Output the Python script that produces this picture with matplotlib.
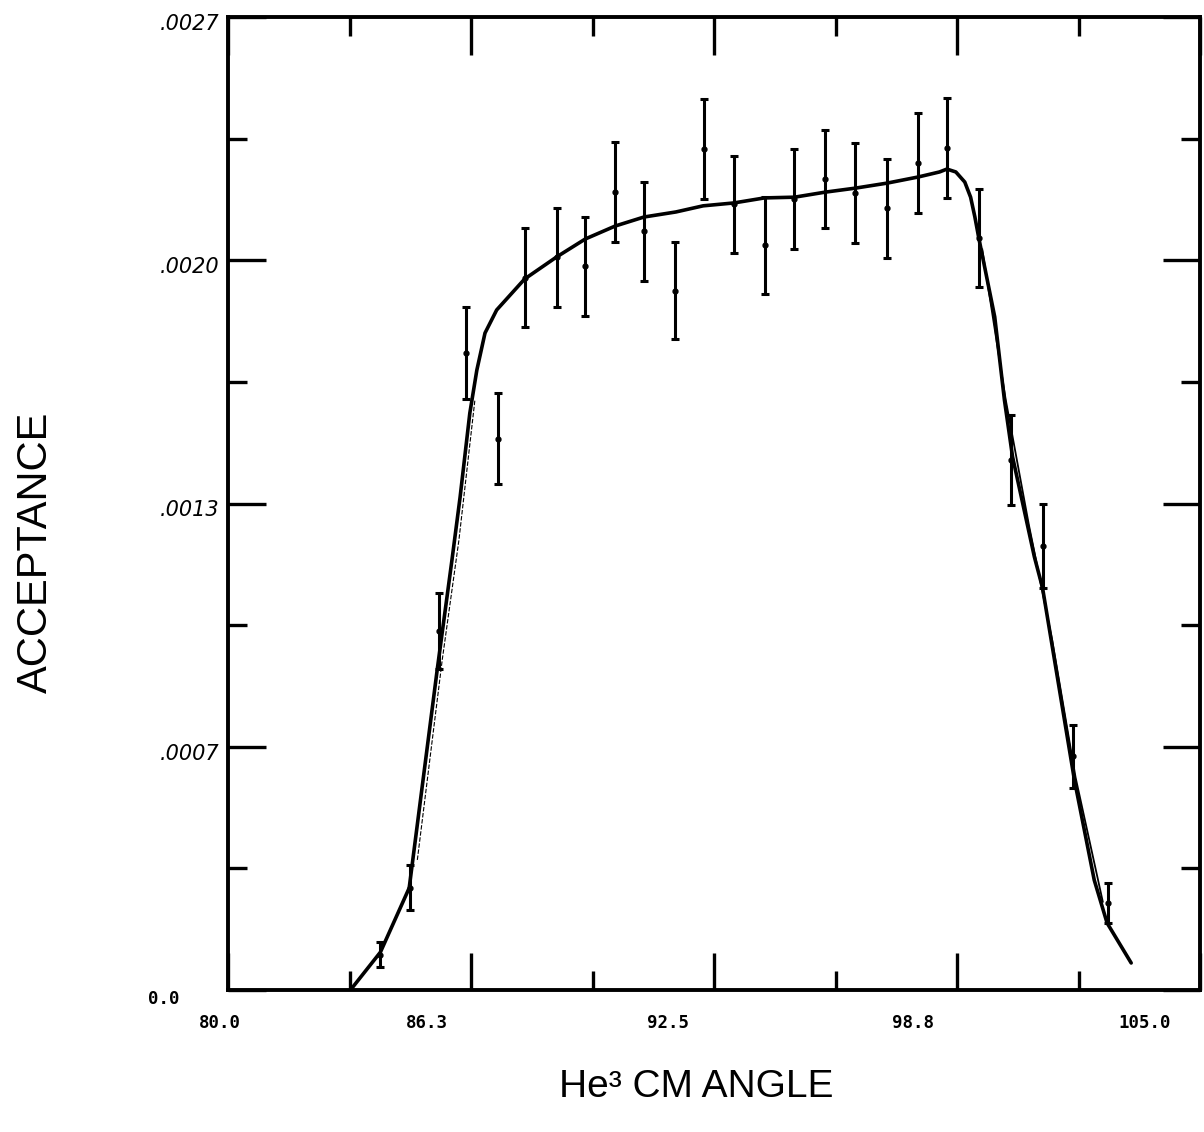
import numpy as np
import matplotlib
matplotlib.use("Agg")
import matplotlib.pyplot as plt
from matplotlib.transforms import ScaledTranslation

# ---------------- data ----------------
angle = [83.92, 84.69, 85.43, 86.12, 86.94, 87.63, 88.45, 89.19, 89.96, 90.70,
         91.50, 92.24, 93.01, 93.80, 94.57, 95.36, 96.13, 96.95, 97.75, 98.49,
         99.31, 100.15, 100.95, 101.74, 102.64]
acc_e4 = [0.985, 2.84, 9.96, 17.68, 15.30, 19.77, 20.33, 20.08, 22.14, 21.05,
          19.41, 23.34, 21.80, 20.66, 21.95, 22.50, 22.12, 21.69, 22.95, 23.37,
          20.87, 14.71, 12.32, 6.48, 2.41]
err_e4 = [0.35, 0.62, 1.05, 1.28, 1.26, 1.37, 1.37, 1.37, 1.39, 1.37,
          1.35, 1.39, 1.35, 1.35, 1.39, 1.36, 1.39, 1.37, 1.39, 1.39,
          1.36, 1.25, 1.17, 0.87, 0.55]

curve_x = [83.15, 83.92, 84.66, 85.38, 85.76, 85.97, 86.22, 86.40, 86.61, 86.91,
           87.63, 88.45, 89.19, 89.96, 90.70, 91.52, 92.22, 93.01, 93.80, 94.57,
           95.36, 96.13, 96.95, 97.75, 98.30, 98.49, 98.72, 98.95, 99.10, 99.21,
           99.31, 99.72, 99.97, 100.18, 100.74, 100.95, 101.77, 102.28, 102.61,
           103.23]
curve_y_e4 = [0.0, 1.05, 2.83, 8.88, 11.93, 13.68, 16.01, 17.20, 18.23, 18.87,
              19.73, 20.34, 20.84, 21.20, 21.45, 21.59, 21.76, 21.84, 21.98, 22.00,
              22.14, 22.25, 22.39, 22.56, 22.70, 22.78, 22.70, 22.42, 22.00, 21.45,
              20.87, 18.68, 16.37, 14.79, 12.02, 11.16, 5.83, 3.05, 1.86,
              0.75]

thin_rise_x = [84.87, 85.51, 85.94, 86.35]
thin_rise_y_e4 = [3.61, 9.16, 12.49, 16.37]
thin_fall_x = [99.40, 100.00, 100.60, 101.20, 101.80, 102.50]
thin_fall_y_e4 = [20.55, 16.40, 12.90, 9.70, 5.90, 2.45]

x_major = [80.0, 86.25, 92.5, 98.75, 105.0]
x_minor = [83.125, 89.375, 95.625, 101.875]
x_labels = ["80.0", "86.3", "92.5", "98.8", "105.0"]
y_major = [0.0, 0.000675, 0.00135, 0.002025, 0.0027]
y_minor = [0.0003375, 0.0010125, 0.0016875, 0.0023625]
y_labels = ["0.0", ".0007", ".0013", ".0020", ".0027"]

# ---------------- figure ----------------
W, H = 1204, 1132
fig = plt.figure(figsize=(W / 100, H / 100), dpi=100)
ax = fig.add_axes([228 / W, 1 - 990 / H, (1200 - 228) / W, (990 - 17) / H])

scale = 1e-4
acc = [v * scale for v in acc_e4]
err = [v * scale for v in err_e4]
cy = [v * scale for v in curve_y_e4]

ax.plot(curve_x, cy, color="black", lw=2.6, solid_capstyle="round",
        solid_joinstyle="round", zorder=3)
ax.plot(thin_rise_x, [v * scale for v in thin_rise_y_e4], color="black",
        lw=0.8, ls=(0, (4, 1.5)), zorder=2)
ax.plot(thin_fall_x, [v * scale for v in thin_fall_y_e4], color="black",
        lw=1.3, zorder=2)
ax.errorbar(angle, acc, yerr=err, fmt="o", ms=3.5, color="black",
            ecolor="black", elinewidth=2.2, capsize=3, capthick=2.2, zorder=4)

ax.set_xlim(80, 105)
ax.set_ylim(0, 0.0027)

for s in ax.spines.values():
    s.set_linewidth(2.8)

ax.set_xticks(x_major)
ax.set_xticks(x_minor, minor=True)
ax.set_yticks(y_major)
ax.set_yticks(y_minor, minor=True)
ax.set_xticklabels(x_labels)
ax.set_yticklabels(y_labels)
ax.tick_params(which="major", direction="in", length=27, width=2.4,
               top=True, right=True, labeltop=False, labelright=False)
ax.tick_params(which="minor", direction="in", length=14, width=2.4,
               top=True, right=True)
ax.tick_params(axis="x", which="major", pad=17)
ax.tick_params(axis="y", which="major", pad=6)

# x tick label styling and offsets (labels sit left of the ticks in the reference)
x_off_px = [-8, -44, -46, -44, -55]
for lab, dx in zip(ax.get_xticklabels(), x_off_px):
    lab.set_fontfamily("DejaVu Sans Mono")
    lab.set_fontweight("bold")
    lab.set_fontsize(12.5)
    lab.set_transform(lab.get_transform() + ScaledTranslation(dx / 100, 0, fig.dpi_scale_trans))

for i, lab in enumerate(ax.get_yticklabels()):
    if i == 0:
        lab.set_fontfamily("DejaVu Sans Mono")
        lab.set_fontweight("bold")
        lab.set_fontsize(12.5)
        lab.set_transform(lab.get_transform() + ScaledTranslation(-40 / 100, -7 / 100, fig.dpi_scale_trans))
    else:
        lab.set_fontfamily("DejaVu Sans")
        lab.set_fontstyle("italic")
        lab.set_fontsize(15)
        lab.set_transform(lab.get_transform() + ScaledTranslation(0, -5 / 100, fig.dpi_scale_trans))

fig.text(36 / W, 1 - 552 / H, "ACCEPTANCE", rotation=90, ha="center", va="center",
         fontsize=30, family="Liberation Sans")
fig.text(696 / W, 1 - 1087 / H, "He³ CM ANGLE", ha="center", va="center",
         fontsize=28, family="Liberation Sans")

fig.savefig("out.png", dpi=100, facecolor="white")
